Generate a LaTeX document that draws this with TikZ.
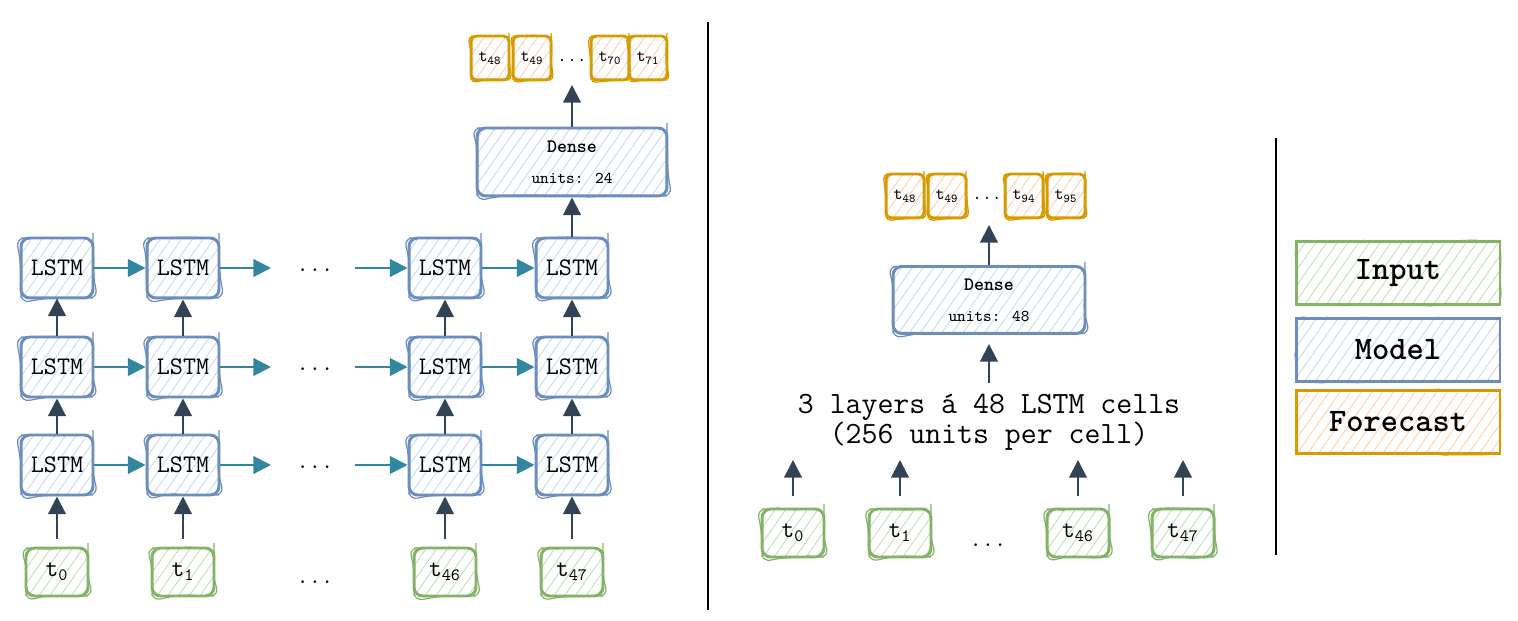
\documentclass[tikz,border=0pt]{standalone}
\usepackage{fontspec}
\usetikzlibrary{arrows.meta, patterns.meta, decorations.pathmorphing}

\definecolor{inpline}{HTML}{82B366}
\definecolor{inpfill}{HTML}{C2DDBB}
\definecolor{modline}{HTML}{6C8EBF}
\definecolor{modfill}{HTML}{C3DAF8}
\definecolor{fcline}{HTML}{D79B00}
\definecolor{fcfill}{HTML}{FFCFAE}
\definecolor{arrdark}{HTML}{314354}
\definecolor{arrteal}{HTML}{3386A0}

\tikzset{
  box/.style={draw, line width=1.7pt, rounded corners=5pt, inner sep=0pt,
    pattern={Lines[angle=55, distance=5pt, line width=0.5pt]},
    postaction={draw, line width=0.7pt, decorate,
      decoration={random steps, segment length=7pt, amplitude=0.7pt}}},
  inbox/.style={box, draw=inpline, pattern color=inpfill,
    minimum width=1.24cm, minimum height=0.96cm,
    font=\ttfamily\fontsize{14.1}{16}\selectfont},
  cell/.style={box, draw=modline, pattern color=modfill,
    minimum width=1.44cm, minimum height=1.2cm,
    font=\ttfamily\fontsize{14.4}{16}\selectfont},
  densebox/.style={box, draw=modline, pattern color=modfill,
    minimum width=3.8cm, minimum height=1.36cm, align=center,
    font=\ttfamily\fontsize{9.4}{17.6}\selectfont},
  outbox/.style={box, draw=fcline, pattern color=fcfill, rounded corners=3pt,
    minimum width=0.76cm, minimum height=0.88cm,
    font=\ttfamily\fontsize{9.8}{11}\selectfont},
  legbox/.style={box, rounded corners=0pt, minimum width=4.08cm,
    minimum height=1.27cm, font=\ttfamily\bfseries\fontsize{18.7}{20}\selectfont},
  dots/.style={font=\ttfamily\fontsize{13.5}{15}\selectfont, inner sep=0pt},
  arr/.style={draw=arrdark, line width=1.2pt,
    -{Triangle[length=10pt, width=10pt]}},
  flow/.style={draw=arrteal, line width=1.2pt,
    -{Triangle[length=10pt, width=10pt]}},
  sep/.style={line width=1.2pt}
}

\begin{document}
\begin{tikzpicture}[x=0.02cm, y=-0.02cm]
    \useasboundingbox (0,0) rectangle (1518,621);

    % Unrolled LSTM: three layers
    \node[cell] (top1) at (57,268) {LSTM};
    \node[cell] (top2) at (183,268) {LSTM};
    \node[cell] (top3) at (445,268) {LSTM};
    \node[cell] (top4) at (572,268) {LSTM};
    \node[cell] (mid1) at (57,367) {LSTM};
    \node[cell] (mid2) at (183,367) {LSTM};
    \node[cell] (mid3) at (445,367) {LSTM};
    \node[cell] (mid4) at (572,367) {LSTM};
    \node[cell] (bot1) at (57,465) {LSTM};
    \node[cell] (bot2) at (183,465) {LSTM};
    \node[cell] (bot3) at (445,465) {LSTM};
    \node[cell] (bot4) at (572,465) {LSTM};

    \node[dots] (topdots) at (315,270) {...};
    \node[dots] (middots) at (315,369) {...};
    \node[dots] (botdots) at (315,467) {...};

    \coordinate (topgapL) at (271,268);
    \coordinate (topgapR) at (355,268);
    \coordinate (midgapL) at (271,367);
    \coordinate (midgapR) at (355,367);
    \coordinate (botgapL) at (271,465);
    \coordinate (botgapR) at (355,465);

    % Inputs
    \node[inbox] (in0) at (57,572) {t\textsubscript{0}};
    \node[inbox] (in1) at (183,572) {t\textsubscript{1}};
    \node[inbox] (in46) at (445,572) {t\textsubscript{46}};
    \node[inbox] (in47) at (572,572) {t\textsubscript{47}};
    \node[dots] (indots) at (315,582) {...};

    % Dense head and forecast
    \node[densebox] (denseL) at (572,162)
        {{\fontsize{10.8}{17.6}\selectfont\bfseries Dense}\\units: 24};
    \coordinate (outL) at (572,85);
    \node[outbox] (o48) at (490,58) {t\textsubscript{48}};
    \node[outbox] (o49) at (532,58) {t\textsubscript{49}};
    \node[dots, font=\ttfamily\fontsize{11}{12}\selectfont] (odots) at (572,60) {...};
    \node[outbox] (o70) at (610,58) {t\textsubscript{70}};
    \node[outbox] (o71) at (648,58) {t\textsubscript{71}};

    % Recurrent connections
    \draw[flow] (top1) -- (top2);
    \draw[flow] (top2) -- (topgapL);
    \draw[flow] (topgapR) -- (top3);
    \draw[flow] (top3) -- (top4);
    \draw[flow] (mid1) -- (mid2);
    \draw[flow] (mid2) -- (midgapL);
    \draw[flow] (midgapR) -- (mid3);
    \draw[flow] (mid3) -- (mid4);
    \draw[flow] (bot1) -- (bot2);
    \draw[flow] (bot2) -- (botgapL);
    \draw[flow] (botgapR) -- (bot3);
    \draw[flow] (bot3) -- (bot4);

    % Stacked connections
    \draw[arr, shorten <=0.16cm] (in0) -- (bot1);
    \draw[arr, shorten <=0.16cm] (in1) -- (bot2);
    \draw[arr, shorten <=0.16cm] (in46) -- (bot3);
    \draw[arr, shorten <=0.16cm] (in47) -- (bot4);
    \draw[arr] (bot1) -- (mid1);
    \draw[arr] (bot2) -- (mid2);
    \draw[arr] (bot3) -- (mid3);
    \draw[arr] (bot4) -- (mid4);
    \draw[arr] (mid1) -- (top1);
    \draw[arr] (mid2) -- (top2);
    \draw[arr] (mid3) -- (top3);
    \draw[arr] (mid4) -- (top4);
    \draw[arr] (top4) -- (denseL);
    \draw[arr] (denseL) -- (outL);

    % Separators
    \draw[sep] (708,22) -- (708,610);
    \draw[sep] (1276,138) -- (1276,555);

    % Compact view
    \node[densebox, minimum width=3.84cm, minimum height=1.34cm] (denseM) at (989,300)
        {{\fontsize{10.8}{17.6}\selectfont\bfseries Dense}\\units: 48};
    \coordinate (outM) at (989,225);
    \node[outbox] (p48) at (905,196) {t\textsubscript{48}};
    \node[outbox] (p49) at (947,196) {t\textsubscript{49}};
    \node[dots, font=\ttfamily\fontsize{11}{12}\selectfont] (pdots) at (987,198) {...};
    \node[outbox] (p94) at (1024,196) {t\textsubscript{94}};
    \node[outbox] (p95) at (1066,196) {t\textsubscript{95}};

    \node[align=center, inner sep=0pt, font=\ttfamily\fontsize{17.6}{17.1}\selectfont]
        (cells) at (989,422) {3 layers á 48 LSTM cells\\(256 units per cell)};
    \coordinate (cellsTop) at (989,383);
    \coordinate (cellsBot) at (989,460);

    \node[inbox] (m0) at (793,533) {t\textsubscript{0}};
    \node[inbox] (m1) at (900,533) {t\textsubscript{1}};
    \node[inbox] (m46) at (1078,533) {t\textsubscript{46}};
    \node[inbox] (m47) at (1183,533) {t\textsubscript{47}};
    \node[dots] (mdots) at (988,545) {...};

    \draw[arr, shorten <=0.24cm] (m0) -- (m0 |- cellsBot);
    \draw[arr, shorten <=0.24cm] (m1) -- (m1 |- cellsBot);
    \draw[arr, shorten <=0.24cm] (m46) -- (m46 |- cellsBot);
    \draw[arr, shorten <=0.24cm] (m47) -- (m47 |- cellsBot);
    \draw[arr, shorten >=0.18cm] (cellsTop) -- (denseM);
    \draw[arr] (denseM) -- (outM);

    % Legend
    \node[legbox, draw=inpline, pattern color=inpfill] (legInput) at (1398,273) {Input};
    \node[legbox, draw=modline, pattern color=modfill] (legModel) at (1398,350) {Model};
    \node[legbox, draw=fcline, pattern color=fcfill] (legFore) at (1398,422) {Forecast};
\end{tikzpicture}
\end{document}
